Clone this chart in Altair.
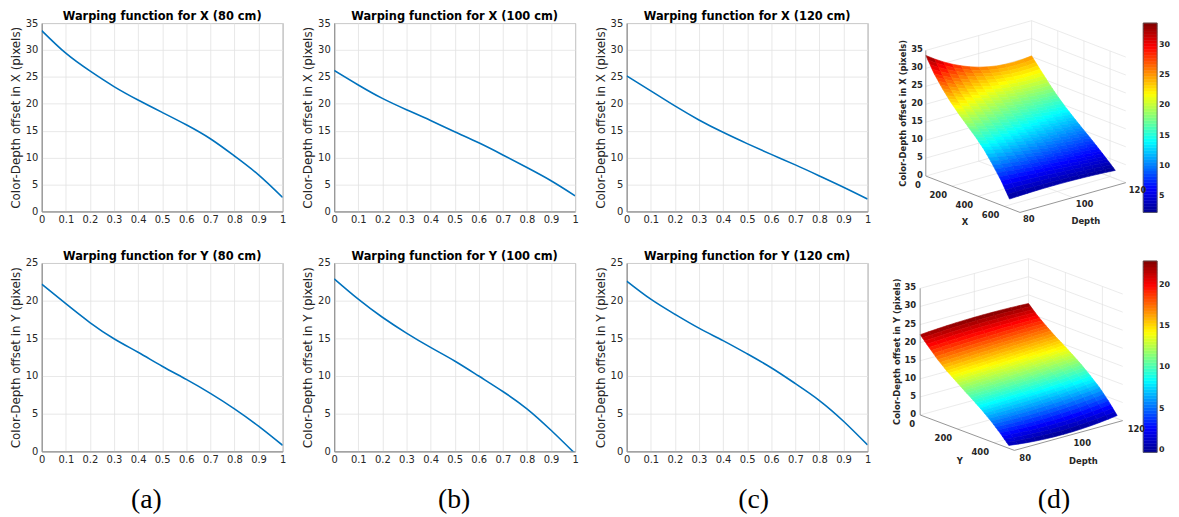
import altair as alt
import numpy as np
import pandas as pd

# ---------------- data ----------------
T = [0.0, 0.1, 0.2, 0.3, 0.4, 0.5, 0.6, 0.7, 0.8, 0.9, 1.0]
X_80 = [33.6, 29.4, 26.1, 23.2, 20.7, 18.4, 16.1, 13.5, 10.3, 6.8, 2.6]
X_100 = [26.2, 23.5, 21.0, 18.9, 16.9, 14.8, 12.75, 10.5, 8.15, 5.7, 2.9]
X_120 = [25.2, 22.4, 19.6, 17.0, 14.7, 12.6, 10.6, 8.65, 6.6, 4.5, 2.3]
Y_80 = [22.2, 19.6, 17.1, 14.95, 13.15, 11.3, 9.55, 7.7, 5.65, 3.35, 0.8]
Y_100 = [22.9, 20.2, 17.8, 15.7, 13.8, 12.0, 10.0, 7.95, 5.65, 2.8, -0.3]
Y_120 = [22.6, 20.2, 18.2, 16.35, 14.7, 12.95, 11.1, 9.0, 6.75, 4.0, 0.85]
DEPTHS = [80, 100, 120]
X_PIXELS = 640
Y_PIXELS = 480
X_AXIS_MAX = 720
Y_AXIS_MAX = 510
X_TICKS_3D = [0, 200, 400, 600]
Y_TICKS_3D = [0, 200, 400]
Z_TICKS_3D = [0, 5, 10, 15, 20, 25, 30, 35]
CB_TICKS_X = [5, 10, 15, 20, 25, 30]
CB_TICKS_Y = [0, 5, 10, 15, 20]
CAPTIONS = ["(a)", "(b)", "(c)", "(d)"]

# ---------------- style ----------------
W, H = 243, 190
WD = 253
FONT = "DejaVu Sans"
DARK = "#262626"
GRID = "#e2e2e2"
AXLINE = "#8a8a8a"
JET = ["#00008f", "#0000ff", "#00ffff", "#ffff00", "#ff0000", "#800000"]
JET_STOPS = [0, 1 / 8, 3 / 8, 5 / 8, 7 / 8, 1]
NOVIEW = alt.ViewBackground(stroke="transparent")
PROJ = dict(type="identity", scale=1, translate=[0, 0])


def panel2d(vals, title, ymax, ylab):
    df = pd.DataFrame({"t": T, "v": vals})
    return (
        alt.Chart(df, title=alt.Title(title, font=FONT, fontSize=11.5, fontWeight="bold",
                                      color="black", offset=-4))
        .mark_line(interpolate="natural", color="#0072BD", strokeWidth=1.6, clip=True)
        .encode(
            x=alt.X("t:Q", scale=alt.Scale(domain=[0, 1], nice=False, zero=False),
                    axis=alt.Axis(values=T, format="~g", title=None, labelPadding=3,
                                  labelFlush=False, labelOverlap=False, labelFont=FONT,
                                  labelFontSize=10)),
            y=alt.Y("v:Q", scale=alt.Scale(domain=[0, ymax], nice=False),
                    axis=alt.Axis(values=list(range(0, ymax + 1, 5)), title=ylab,
                                  labelPadding=4, titlePadding=3, labelFlush=False,
                                  labelFont=FONT, labelFontSize=10, titleFont=FONT,
                                  titleFontSize=12)),
        )
        .properties(width=W, height=H)
    )


def proj(cam, a, d, z):
    x = cam["ox"] + a * cam["ax"] + (d - 80) * cam["dx"]
    y = cam["oy"] + a * cam["ay"] + (d - 80) * cam["dy"] - z * cam["zs"]
    return [round(float(x), 2), round(float(y), 2)]


def feat(kind, coords, v=0.0):
    return {"type": "Feature", "geometry": {"type": kind, "coordinates": coords},
            "properties": {"v": v}}


def surf_z(grid, t, u):
    """Value on the surface: linear between read points along t, quadratic through
    the three depth curves along u (0 = 80 cm, 1 = 120 cm)."""
    row = [np.interp(t, T, grid[k]) for k in range(3)]
    l0 = (u - 0.5) * (u - 1) / 0.5
    l1 = u * (u - 1) / -0.25
    l2 = u * (u - 0.5) / 0.5
    return l0 * row[0] + l1 * row[1] + l2 * row[2]


def panel3d(rows, a_pix, a_max, a_ticks, a_name, zlabel, cam, cb, cb_ticks):
    grid = np.array(rows, dtype=float)
    vmin, vmax = float(grid.min()), float(grid.max())
    jet = alt.Scale(domain=[vmin + f * (vmax - vmin) for f in JET_STOPS], range=JET,
                    interpolate="rgb", clamp=True)
    P = lambda a, d, z: proj(cam, a, d, z)

    # back walls and floor grid
    glines = []
    for z in Z_TICKS_3D:
        glines.append(feat("LineString", [P(0, 80, z), P(0, 120, z), P(a_max, 120, z)]))
    for d in DEPTHS[1:]:
        glines.append(feat("LineString", [P(0, d, 0), P(0, d, 35)]))
    for a in a_ticks[1:]:
        glines.append(feat("LineString", [P(a, 120, 0), P(a, 120, 35)]))
        glines.append(feat("LineString", [P(a, 80, 0), P(a, 120, 0)]))
    for d in DEPTHS[1:]:
        glines.append(feat("LineString", [P(0, d, 0), P(a_max, d, 0)]))
    g_layer = alt.Chart(alt.Data(values=glines)).mark_geoshape(
        filled=False, stroke=GRID, strokeWidth=0.7, clip=False).project(**PROJ)

    # surface mesh
    nt, nd = 40, 12
    polys = []
    for sj in range(nd):
        for si in range(nt):
            pts, zs = [], []
            for fa, fb in [(si, sj), (si + 1, sj), (si + 1, sj + 1), (si, sj + 1)]:
                t, u = fa / nt, fb / nd
                z = surf_z(grid, t, u)
                pts.append(P(t * a_pix, 80 + 40 * u, z))
                zs.append(z)
            pts.append(pts[0])
            polys.append(feat("Polygon", [pts], round(float(np.mean(zs)), 3)))
    s_layer = alt.Chart(alt.Data(values=polys)).mark_geoshape(strokeWidth=0.6, clip=False).encode(
        color=alt.Color("properties.v:Q", scale=jet, legend=None),
        stroke=alt.Stroke("properties.v:Q", scale=jet, legend=None),
    ).project(**PROJ)

    # axis lines
    alines = [feat("LineString", [P(0, 80, 0), P(0, 80, 35)]),
              feat("LineString", [P(0, 80, 0), P(a_max, 80, 0), P(a_max, 120, 0)])]
    a_layer = alt.Chart(alt.Data(values=alines)).mark_geoshape(
        filled=False, stroke=AXLINE, strokeWidth=0.9, clip=False).project(**PROJ)

    # colorbar
    x0, x1, y0, y1 = cb
    n = 64
    cells = []
    for k in range(n):
        v = vmin + (k + 0.5) / n * (vmax - vmin)
        ya = y1 - k / n * (y1 - y0)
        yb = y1 - (k + 1) / n * (y1 - y0)
        cells.append(feat("Polygon", [[[x0, ya], [x1, ya], [x1, yb], [x0, yb], [x0, ya]]], v))
    c_layer = alt.Chart(alt.Data(values=cells)).mark_geoshape(strokeWidth=0.5, clip=False).encode(
        color=alt.Color("properties.v:Q", scale=jet, legend=None),
        stroke=alt.Stroke("properties.v:Q", scale=jet, legend=None),
    ).project(**PROJ)
    box = [feat("LineString", [[x0, y0], [x1, y0], [x1, y1], [x0, y1], [x0, y0]])]
    b_layer = alt.Chart(alt.Data(values=box)).mark_geoshape(
        filled=False, stroke="#555555", strokeWidth=0.8, clip=False).project(**PROJ)

    # texts
    def pos(p, ddx, ddy):
        return p[0] + ddx, p[1] + ddy

    zl = [dict(zip(["px", "py"], pos(P(0, 80, z), cam["zlx"], -1)), lab=str(z)) for z in Z_TICKS_3D]
    al = [dict(zip(["px", "py"], pos(P(a, 80, 0), cam["alx"], cam["aly"])), lab=str(a)) for a in a_ticks]
    right = pd.DataFrame(zl + al)
    dl = [dict(zip(["px", "py"], pos(P(a_max, d, 0), cam["dlx"], cam["dly"])), lab=str(d)) for d in DEPTHS]
    left = pd.DataFrame(dl)
    tt = [dict(zip(["px", "py"], pos(P(a_max / 2, 80, 0), cam["atx"], cam["aty"])), lab=a_name),
          dict(zip(["px", "py"], pos(P(a_max, 100, 0), cam["dtx"], cam["dty"])), lab="Depth")]
    titles = pd.DataFrame(tt)
    zt = pd.DataFrame([dict(zip(["px", "py"], pos(P(0, 80, 17.5), cam["ztx"], 0)), lab=zlabel)])
    cbl = pd.DataFrame([dict(px=x1 + 2, py=y1 - (v - vmin) / (vmax - vmin) * (y1 - y0), lab=str(v))
                        for v in cb_ticks])

    def txt(df, size=8.5, **kw):
        return alt.Chart(df).mark_text(font=FONT, fontSize=size, fontWeight="bold", color=DARK,
                                       baseline="middle", clip=False, **kw).encode(
            longitude="px:Q", latitude="py:Q", text="lab:N").project(**PROJ)

    t_layers = [txt(right, align="right"), txt(left, align="left"),
                txt(titles, align="center"),
                txt(zt, align="center", angle=270),
                txt(cbl, size=8, align="left")]

    return alt.layer(g_layer, s_layer, a_layer, c_layer, b_layer, *t_layers).properties(
        width=WD, height=H, view=NOVIEW)


CAM_TOP = dict(ox=6.7, oy=154.3, ax=95 / X_AXIS_MAX, ay=36.7 / X_AXIS_MAX, dx=106.7 / 40,
               dy=-30 / 40, zs=126.7 / 35, zlx=-3, alx=-5, aly=9, dlx=3, dly=7,
               atx=-8, aty=28, dtx=13, dty=24, ztx=-23)
CAM_BOT = dict(ox=1.0, oy=153.3, ax=95 / Y_AXIS_MAX, ay=35.7 / Y_AXIS_MAX, dx=109.3 / 40,
               dy=-30 / 40, zs=127.7 / 35, zlx=-4, alx=-5, aly=9.5, dlx=5, dly=8,
               atx=-7.5, aty=29, dtx=15, dty=26, ztx=-23.5)

a1 = panel2d(X_80, "Warping function for X (80 cm)", 35, "Color-Depth offset in X (pixels)")
b1 = panel2d(X_100, "Warping function for X (100 cm)", 35, "Color-Depth offset in X (pixels)")
c1 = panel2d(X_120, "Warping function for X (120 cm)", 35, "Color-Depth offset in X (pixels)")
a2 = panel2d(Y_80, "Warping function for Y (80 cm)", 25, "Color-Depth offset in Y (pixels)")
b2 = panel2d(Y_100, "Warping function for Y (100 cm)", 25, "Color-Depth offset in Y (pixels)")
c2 = panel2d(Y_120, "Warping function for Y (120 cm)", 25, "Color-Depth offset in Y (pixels)")

d1 = panel3d([X_80, X_100, X_120], X_PIXELS, X_AXIS_MAX, X_TICKS_3D, "X",
             "Color-Depth offset in X (pixels)", CAM_TOP, (226, 240, 0, 191), CB_TICKS_X)
d2 = panel3d([Y_80, Y_100, Y_120], Y_PIXELS, Y_AXIS_MAX, Y_TICKS_3D, "Y",
             "Color-Depth offset in Y (pixels)", CAM_BOT, (226, 240, -2, 191), CB_TICKS_Y)


def caption(text, xc, w):
    return alt.Chart(pd.DataFrame({"cap": [text]})).mark_text(
        font="Liberation Serif", fontSize=28, align="center", baseline="middle", color="black"
    ).encode(text="cap:N", x=alt.value(xc), y=alt.value(-3)).properties(
        width=w, height=10, view=NOVIEW)


caps = [caption(CAPTIONS[0], 105.5, W), caption(CAPTIONS[1], 121, W),
        caption(CAPTIONS[2], 128, W), caption(CAPTIONS[3], 136, WD)]

chart = (
    alt.concat(a1, b1, c1, d1, a2, b2, c2, d2, *caps, columns=4, spacing=52,
               bounds="flush", align="each")
    .resolve_scale(color="independent", stroke="independent")
    .properties(padding={"left": 0, "top": 0, "right": 0, "bottom": 0})
    .configure_axis(labelFont=FONT, labelFontSize=10, labelColor=DARK, titleFont=FONT,
                    titleFontSize=12, titleFontWeight="normal", titleColor=DARK,
                    domainColor="#8c8c8c", gridColor=GRID, gridWidth=0.8, ticks=False,
                    tickSize=0)
    .configure_view(stroke="#8c8c8c", strokeWidth=1)
)

chart.save("out.html", embed_options={"renderer": "svg", "actions": False})
